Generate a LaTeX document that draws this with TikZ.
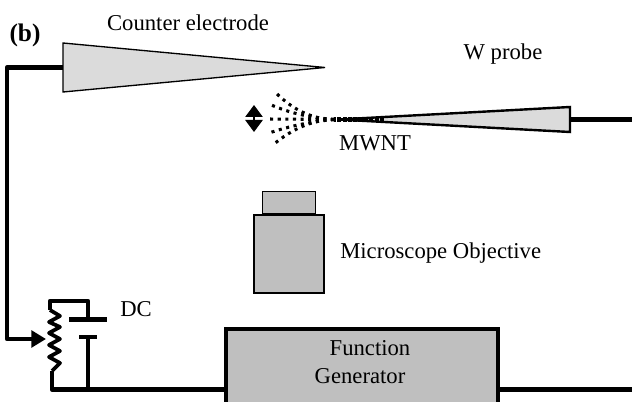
\documentclass[tikz,border=0pt]{standalone}
\usepackage{fontspec}
\setmainfont{Liberation Serif}
\usepackage{xcolor}
\usetikzlibrary{arrows.meta,positioning,calc}

\begin{document}
\begin{tikzpicture}[
  x=0.75pt,y=-0.75pt,font=\fontsize{17}{20}\selectfont,inner sep=0pt,
  wire/.style={line width=3.3pt,line join=round},
  tipshape/.style={draw,line width=1pt,line join=miter,fill=black!14},
  objbox/.style={draw,line width=1.1pt,fill=black!25,minimum width=52.5pt,minimum height=58.5pt},
  dots/.style={line width=2.3pt,dash pattern=on 2.3pt off 3.4pt}
]
\clip (0,0) rectangle (632,402);
% electrodes
\coordinate (ctop) at (63,43);
\coordinate (cbot) at (63,92);
\coordinate (cmid) at (63,67.5);
\coordinate (ctip) at (325,67.5);
\coordinate (ptop) at (570,107);
\coordinate (pbot) at (570,132);
\coordinate (pmid) at (570,119.5);
\coordinate (ptip) at (338,119.5);
\draw[tipshape] (ctop) -- (ctip) -- (cbot) -- cycle;
\draw[tipshape,line width=1.8pt] (ptop) -- (ptip) -- (pbot) -- cycle;
\node at (188,23) (clabel) {Counter electrode};
\node[font=\fontsize{19}{22}\selectfont\bfseries] at (25,35) (blabel) {(b)};
\node at (503,54) (plabel) {W probe};
\node at (375,143) (mlabel) {MWNT};
% nanotube
\coordinate (mfan) at (334,119.5);
\coordinate (mend) at (384,119.5);
\coordinate (fana) at (275,92);
\coordinate (fanb) at (269,104);
\coordinate (fanc) at (266,119);
\coordinate (fand) at (269,133);
\coordinate (fane) at (274,144);
\draw[dots,line width=3.2pt,dash pattern=on 3pt off 1pt] (mend) -- (mfan);
\draw[dots] (mfan) -- (fanc);
\draw[dots] (mfan) .. controls (314,119) and (295,112) .. (fana);
\draw[dots] (mfan) .. controls (318,118) and (296,116) .. (fanb);
\draw[dots] (mfan) .. controls (318,121) and (296,124) .. (fand);
\draw[dots] (mfan) .. controls (314,120) and (295,127) .. (fane);
\coordinate (vtop) at (254,105);
\coordinate (vbot) at (254,132);
\draw[{Triangle[length=9pt,width=13pt]}-{Triangle[length=9pt,width=13pt]},line width=1.2pt] (vtop) -- (vbot);
% objective
\node[objbox] at (289,254) (obj) {};
\node[objbox,minimum width=39.5pt,minimum height=16.5pt,above=0pt of obj] (lens) {};
\node[anchor=west] at (340,253) (olabel) {Microscope Objective};
% function generator
\node[draw,line width=3pt,fill=black!25,anchor=north west,minimum width=204pt,minimum height=66pt] at (224,327) (gen) {};
\node at (370,348) (glabela) {Function};
\node at (360,376) (glabelb) {Generator};
% circuit
\coordinate (gl) at (gen.west |- 0,389.5);
\coordinate (gr) at (gen.east |- 0,389.5);
\coordinate (rtop) at (50,310);
\coordinate (rbot) at (52,371);
\coordinate (rjoin) at (52,389.5);
\coordinate (wiper) at (46,339);
\coordinate (bhi) at (88,319.5);
\coordinate (blo) at (88,337);
\coordinate (bjoin) at (88,389.5);
\coordinate (redge) at (632,389.5);
\draw[wire,-{Triangle[length=11pt,width=12.5pt]}] (cmid) -- (7,67.5) |- (wiper);
\draw[wire,line width=2.8pt] (rtop) -- (60,316) -- (49,322) -- (60,327) -- (49,333) -- (60,339)
  -- (49,345) -- (60,351) -- (49,357) -- (60,363) -- (rbot);
\draw[wire] (rtop) -- (50,301) -- (88,301) -- (bhi);
\draw[wire] (69,319.5) -- (107,319.5);
\draw[wire] (79,337) -- (97,337);
\draw[wire] (blo) -- (bjoin);
\draw[wire] (rbot) -- (rjoin) -- (gl);
\draw[wire] (gr) -- (redge);
\draw[wire] (pmid) -- (632,119.5);
\node[anchor=west] at (120,309) (dclabel) {DC};
\end{tikzpicture}
\end{document}
